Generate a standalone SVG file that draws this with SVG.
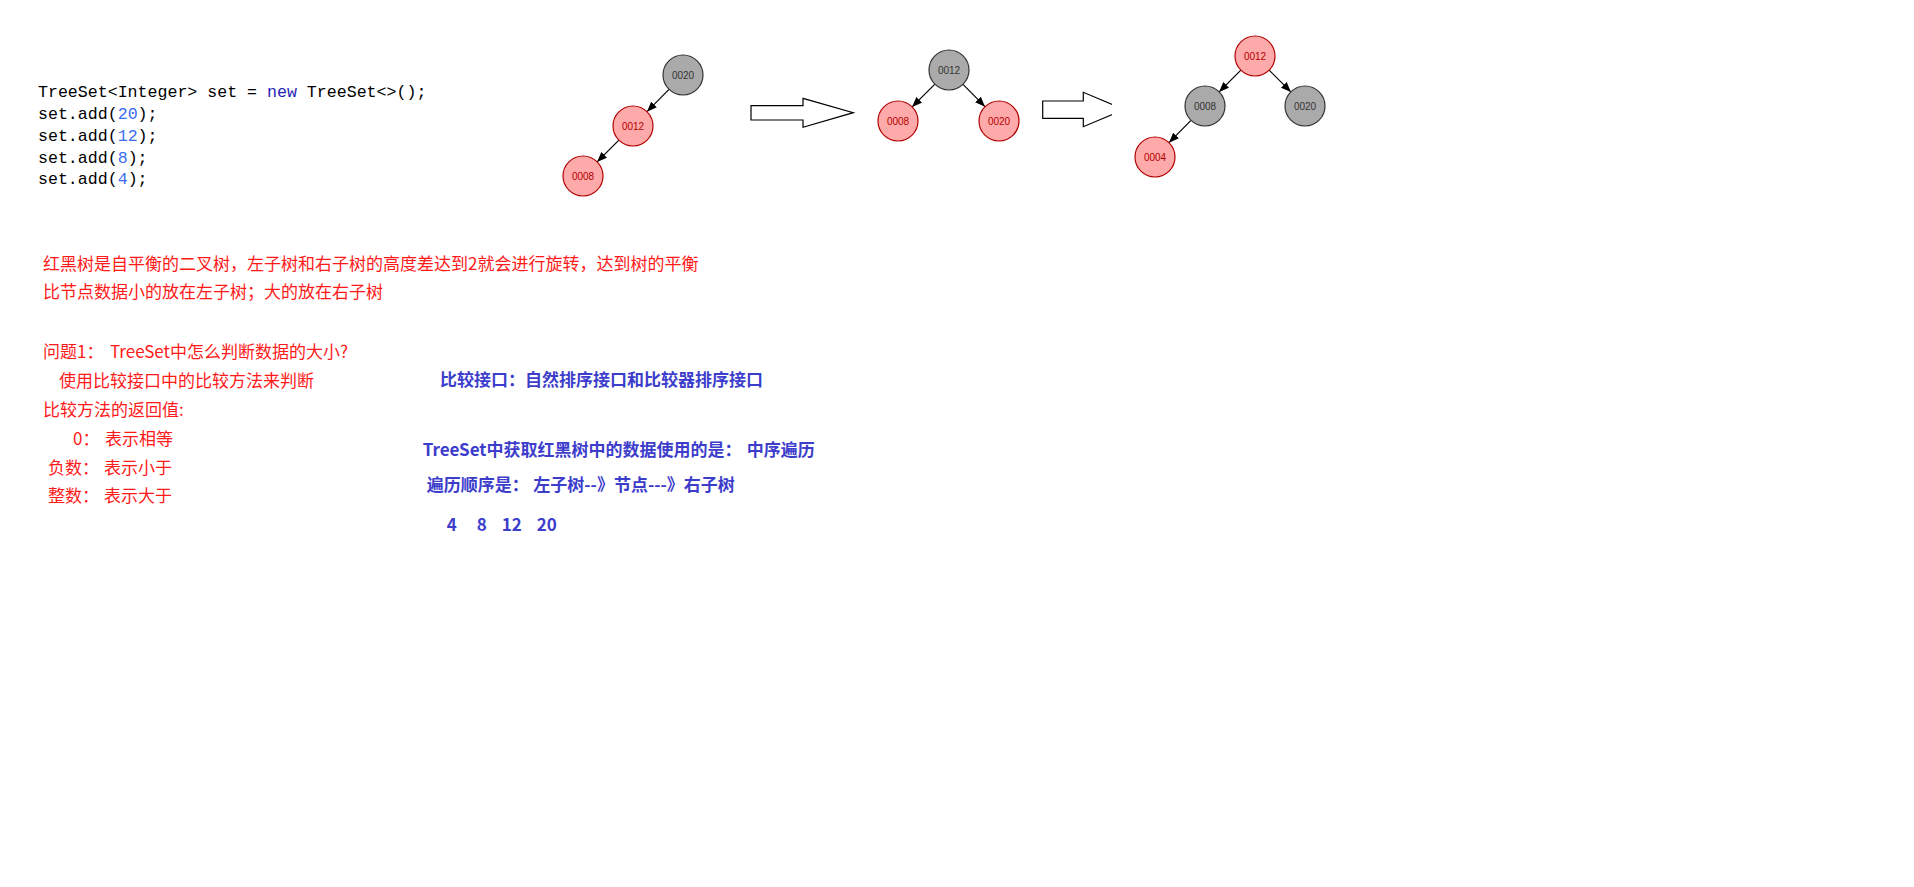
<svg xmlns="http://www.w3.org/2000/svg" width="1914" height="887" viewBox="0 0 1914 887">
<style>
.code{font-family:"Liberation Mono","DejaVu Sans Mono",monospace;font-size:16.6px;fill:#000;white-space:pre}
.kw{fill:#1f1fb8}
.num{fill:#3a6cf0}
.nb circle{fill:#aaaaaa;stroke:#333;stroke-width:1.2}
.nr circle{fill:#ffaaaa;stroke:#b20000;stroke-width:1.2}
.nb text{fill:#333;font-family:"Liberation Sans",Arial,sans-serif;font-size:10px;text-anchor:middle}
.nr text{fill:#b20000;font-family:"Liberation Sans",Arial,sans-serif;font-size:10px;text-anchor:middle}
.edge{stroke:#000;stroke-width:1.2;fill:none;marker-end:url(#ah)}
.big{fill:#fff;stroke:#000;stroke-width:1.2}
.red{font-family:"Noto Sans CJK SC",sans-serif;font-size:17px;fill:#ff1a1a}
.blue{font-family:"Noto Sans CJK SC",sans-serif;font-size:17px;font-weight:bold;fill:#3d3dcc}
</style>
<defs>
<marker id="ah" markerWidth="10" markerHeight="8" refX="10" refY="4" orient="auto" markerUnits="userSpaceOnUse">
<path d="M0,0 L10,4 L0,8 Z" fill="#000"/>
</marker>
<clipPath id="clip2"><rect x="1030" y="80" width="82" height="60"/></clipPath>
</defs>
<rect width="1914" height="887" fill="#fff"/>

<g id="code">
<text class="code" x="38" y="97">TreeSet&lt;Integer&gt; set = <tspan class="kw">new</tspan> TreeSet&lt;&gt;();</text>
<text class="code" x="38" y="119">set.add(<tspan class="num">20</tspan>);</text>
<text class="code" x="38" y="141">set.add(<tspan class="num">12</tspan>);</text>
<text class="code" x="38" y="163">set.add(<tspan class="num">8</tspan>);</text>
<text class="code" x="38" y="184">set.add(<tspan class="num">4</tspan>);</text>
</g>

<g id="connectors">
<line class="edge" x1="669" y1="89.3" x2="647" y2="111.7"/>
<line class="edge" x1="618.9" y1="140.1" x2="597.1" y2="161.9"/>
<line class="edge" x1="934.9" y1="84.1" x2="912.1" y2="106.9"/>
<line class="edge" x1="963" y1="84.3" x2="985" y2="106.7"/>
<line class="edge" x1="1240.9" y1="70.1" x2="1219.1" y2="91.9"/>
<line class="edge" x1="1269.1" y1="70.1" x2="1290.9" y2="91.9"/>
<line class="edge" x1="1191" y1="120.3" x2="1169" y2="142.7"/>
</g>

<g id="t1-0020" class="nb"><circle cx="683" cy="75" r="20"/><text x="683" y="78.5">0020</text></g>
<g id="t1-0012" class="nr"><circle cx="633" cy="126" r="20"/><text x="633" y="129.5">0012</text></g>
<g id="t1-0008" class="nr"><circle cx="583" cy="176" r="20"/><text x="583" y="179.5">0008</text></g>

<g id="arrow1"><polygon class="big" points="751,105.7 803,105.7 803,98.3 853.3,112.7 803,127.3 803,120 751,120"/></g>

<g id="t2-0012" class="nb"><circle cx="949" cy="70" r="20"/><text x="949" y="73.5">0012</text></g>
<g id="t2-0008" class="nr"><circle cx="898" cy="121" r="20"/><text x="898" y="124.5">0008</text></g>
<g id="t2-0020" class="nr"><circle cx="999" cy="121" r="20"/><text x="999" y="124.5">0020</text></g>

<g id="arrow2" clip-path="url(#clip2)"><polygon class="big" points="1042.7,101 1083.3,101 1083.3,92.3 1124,109.5 1083.3,126.7 1083.3,118.3 1042.7,118.3"/></g>

<g id="t3-0012" class="nr"><circle cx="1255" cy="56" r="20"/><text x="1255" y="59.5">0012</text></g>
<g id="t3-0008" class="nb"><circle cx="1205" cy="106" r="20"/><text x="1205" y="109.5">0008</text></g>
<g id="t3-0020" class="nb"><circle cx="1305" cy="106" r="20"/><text x="1305" y="109.5">0020</text></g>
<g id="t3-0004" class="nr"><circle cx="1155" cy="157" r="20"/><text x="1155" y="160.5">0004</text></g>

<g id="notes-red">
<text class="red" x="43" y="270">红黑树是自平衡的二叉树，左子树和右子树的高度差达到2就会进行旋转，达到树的平衡</text>
<text class="red" x="43" y="298">比节点数据小的放在左子树；大的放在右子树</text>
<text class="red" x="43" y="358">问题1：</text>
<text class="red" x="110" y="358">TreeSet中怎么判断数据的大小?</text>
<text class="red" x="59" y="387">使用比较接口中的比较方法来判断</text>
<text class="red" x="43" y="416">比较方法的返回值:</text>
<text class="red" x="73" y="445">0：</text>
<text class="red" x="105" y="445">表示相等</text>
<text class="red" x="48" y="474">负数：</text>
<text class="red" x="104" y="474">表示小于</text>
<text class="red" x="48" y="502">整数：</text>
<text class="red" x="104" y="502">表示大于</text>
</g>

<g id="notes-blue">
<text class="blue" x="440" y="386">比较接口：自然排序接口和比较器排序接口</text>
<text class="blue" x="422.7" y="456">TreeSet中获取红黑树中的数据使用的是：</text>
<text class="blue" x="746.7" y="456">中序遍历</text>
<text class="blue" x="426.7" y="491">遍历顺序是：</text>
<text class="blue" x="533.3" y="491">左子树--》节点---》右子树</text>
<text class="blue" x="446.7" y="531">4</text>
<text class="blue" x="476.7" y="531">8</text>
<text class="blue" x="501.7" y="531">12</text>
<text class="blue" x="536.7" y="531">20</text>
</g>
</svg>
